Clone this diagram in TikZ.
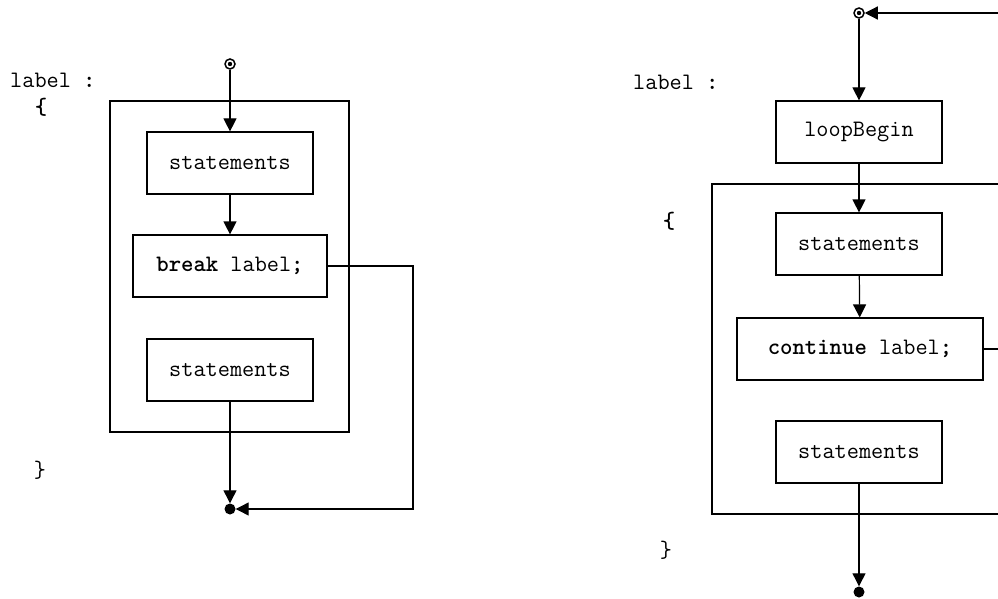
\documentclass[tikz,border=0pt]{standalone}
\usepackage{fontspec}
\usetikzlibrary{arrows.meta}
\newcommand{\codefont}{\fontsize{23.6}{26}\selectfont\ttfamily}
\tikzset{
  stmt/.style={draw, line width=1.2pt, minimum height=62pt, inner sep=0pt, font=\codefont},
  frame/.style={draw, line width=1.2pt},
  arr/.style={-{Triangle[length=13pt,width=13pt]}, line width=1.2pt},
  ln/.style={line width=1.2pt},
  startpt/.style={circle, draw, line width=1.5pt, minimum size=10pt, inner sep=0pt,
    path picture={\fill (path picture bounding box.center) circle (2.2pt);}},
  endpt/.style={circle, fill, minimum size=11pt, inner sep=0pt},
  txt/.style={font=\codefont, inner sep=0pt}
}
\begin{document}
\begin{tikzpicture}[x=1pt,y=-1pt]
     		\useasboundingbox (0,0) rectangle (998,599);
     		% break
     		\node[txt, anchor=west] (lblA) at (10,80) {label \textbf{:}};
     		\node[txt] (openA) at (41,107) {\textbf{\{}};
     		\node[txt] (closeA) at (40,470) {\}};
     		\draw[frame] (110,101) rectangle (349,432);
     		\node[startpt] (startA) at (230,64) {};
     		\node[stmt, minimum width=166pt] (stmtA) at (230,163) {statements};
     		\node[stmt, minimum width=194pt] (breakA) at (230,266) {\textbf{break} label\textbf{;}};
     		\node[stmt, minimum width=166pt] (stmtB) at (230,370) {statements};
     		\node[endpt] (endA) at (230,509) {};
     		\coordinate (brk) at (413,509);
     		\draw[arr] (startA) -- (stmtA);
     		\draw[arr] (stmtA) -- (breakA);
     		\draw[arr] (stmtB) -- (endA);
     		\draw[arr] (breakA.east) -| (brk) -- (endA);
     		% continue
     		\node[txt, anchor=west] (lblB) at (633,82) {label \textbf{:}};
     		\node[txt] (openB) at (669,221) {\textbf{\{}};
     		\node[txt] (closeB) at (666,550) {\}};
     		\draw[frame] (712,184) rectangle (1010,514);
     		\node[startpt] (startB) at (859,13) {};
     		\node[stmt, minimum width=166pt] (loopB) at (859,132) {loopBegin};
     		\node[stmt, minimum width=166pt] (stmtC) at (859,244) {statements};
     		\node[stmt, minimum width=246pt] (contB) at (860,349) {\textbf{continue} label\textbf{;}};
     		\node[stmt, minimum width=166pt] (stmtD) at (859,452) {statements};
     		\node[endpt] (endB) at (859,592) {};
     		\coordinate (back) at (1000,13);
     		\coordinate (cont) at (1000,349);
     		\draw[arr] (back) -- (startB);
     		\draw[arr] (startB) -- (loopB);
     		\draw[arr] (loopB) -- (stmtC);
     		\draw[arr] (stmtC) -- (contB);
     		\draw[ln] (contB.east) -- (cont);
     		\draw[arr] (stmtD) -- (endB);
\end{tikzpicture}
\end{document}
